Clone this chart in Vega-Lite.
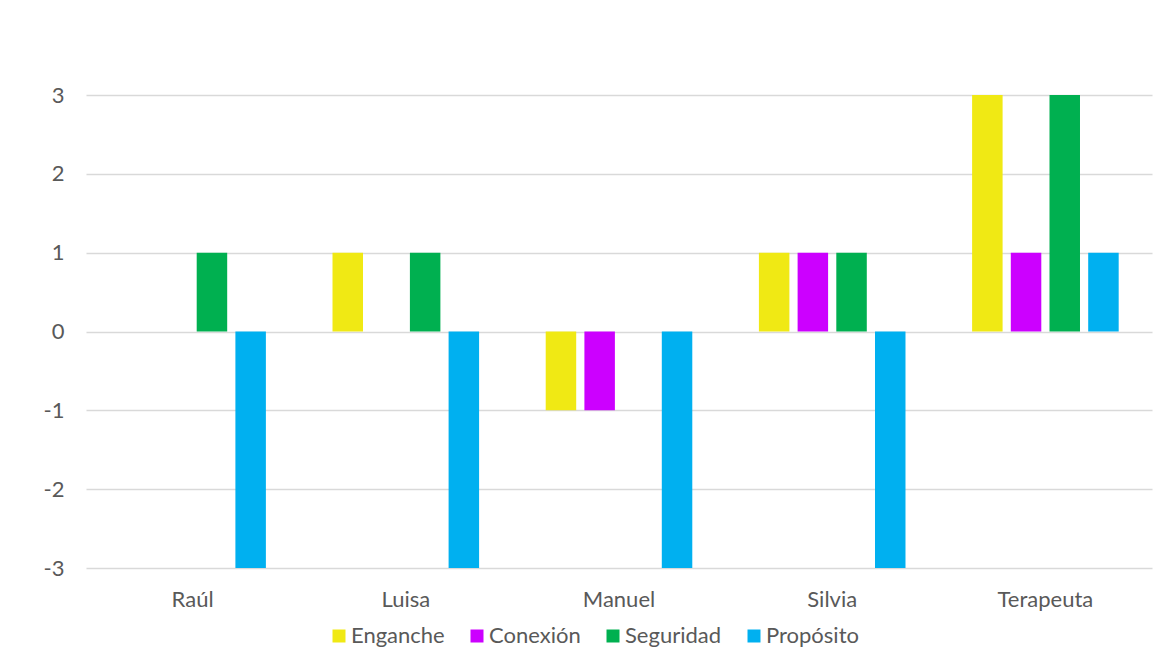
{
  "$schema": "https://vega.github.io/schema/vega-lite/v6.json",
  "autosize": "none",
  "width": 1066,
  "height": 473,
  "padding": {"left": 86, "top": 95, "right": 14, "bottom": 98},
  "background": "white",
  "config": {
    "view": {"stroke": null},
    "font": "Lato",
    "axis": {"labelFont": "Lato", "labelFontSize": 22, "labelColor": "#595959"},
    "legend": {"labelFont": "Lato", "labelFontSize": 22, "labelColor": "#595959"}
  },
  "data": {
    "values": [
      {"persona": "Raúl", "serie": "Enganche", "valor": 0},
      {"persona": "Raúl", "serie": "Conexión", "valor": 0},
      {"persona": "Raúl", "serie": "Seguridad", "valor": 1},
      {"persona": "Raúl", "serie": "Propósito", "valor": -3},
      {"persona": "Luisa", "serie": "Enganche", "valor": 1},
      {"persona": "Luisa", "serie": "Conexión", "valor": 0},
      {"persona": "Luisa", "serie": "Seguridad", "valor": 1},
      {"persona": "Luisa", "serie": "Propósito", "valor": -3},
      {"persona": "Manuel", "serie": "Enganche", "valor": -1},
      {"persona": "Manuel", "serie": "Conexión", "valor": -1},
      {"persona": "Manuel", "serie": "Seguridad", "valor": 0},
      {"persona": "Manuel", "serie": "Propósito", "valor": -3},
      {"persona": "Silvia", "serie": "Enganche", "valor": 1},
      {"persona": "Silvia", "serie": "Conexión", "valor": 1},
      {"persona": "Silvia", "serie": "Seguridad", "valor": 1},
      {"persona": "Silvia", "serie": "Propósito", "valor": -3},
      {"persona": "Terapeuta", "serie": "Enganche", "valor": 3},
      {"persona": "Terapeuta", "serie": "Conexión", "valor": 1},
      {"persona": "Terapeuta", "serie": "Seguridad", "valor": 3},
      {"persona": "Terapeuta", "serie": "Propósito", "valor": 1}
    ]
  },
  "mark": {"type": "bar"},
  "encoding": {
    "x": {
      "field": "persona",
      "type": "nominal",
      "sort": ["Raúl", "Luisa", "Manuel", "Silvia", "Terapeuta"],
      "scale": {"paddingInner": 0.274, "paddingOuter": 0.137},
      "axis": {"title": null, "labelAngle": 0, "domain": false, "ticks": false, "labelPadding": 21}
    },
    "xOffset": {
      "field": "serie",
      "type": "nominal",
      "sort": ["Enganche", "Conexión", "Seguridad", "Propósito"],
      "scale": {"paddingInner": 0.212, "paddingOuter": 0.106}
    },
    "y": {
      "field": "valor",
      "type": "quantitative",
      "scale": {"domain": [-3, 3], "nice": false},
      "axis": {
        "title": null,
        "values": [-3, -2, -1, 0, 1, 2, 3],
        "labelExpr": "'' + datum.value",
        "domain": false,
        "ticks": false,
        "labelPadding": 22,
        "gridColor": "#D9D9D9",
        "gridWidth": 1.3
      }
    },
    "color": {
      "field": "serie",
      "type": "nominal",
      "sort": ["Enganche", "Conexión", "Seguridad", "Propósito"],
      "scale": {
        "domain": ["Enganche", "Conexión", "Seguridad", "Propósito"],
        "range": ["#F0E914", "#CC00FF", "#00B050", "#00B0F0"]
      },
      "legend": {
        "title": null,
        "orient": "none",
        "direction": "horizontal",
        "legendX": 242,
        "legendY": 530,
        "padding": 0,
        "symbolType": "square",
        "symbolSize": 169,
        "symbolStrokeWidth": 0,
        "labelOffset": 1,
        "columnPadding": 21
      }
    }
  }
}
